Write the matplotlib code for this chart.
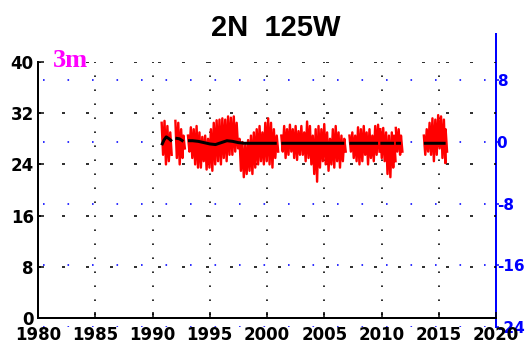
import matplotlib
matplotlib.use('Agg')
import matplotlib.pyplot as plt
import numpy as np
from matplotlib import font_manager as fm

plt.rcParams['lines.scale_dashes'] = False

# ---------------- data ----------------
x_ticks = [1980, 1985, 1990, 1995, 2000, 2005, 2010, 2015, 2020]
x_labels = ['1980', '1985', '1990', '1995', '2000', '2005', '2010', '2015', '2020']
left_ticks = [0, 8, 16, 24, 32, 40]
left_labels = ['0', '8', '16', '24', '32', '40']
right_ticks = [-24, -16, -8, 0, 8]
right_labels = ['-24', '-16', '-8', '0', '8']

# red series: envelope (high / low) read every ~quarter year; None = gap
red_years = [1990.8, 1991.05, 1991.3, 1991.55, None,
             1992.0, 1992.25, 1992.5, 1992.7, None,
             1993.1, 1993.35, 1993.6, 1993.85, 1994.1, 1994.35, 1994.6, 1994.85,
             1995.1, 1995.35, 1995.6, 1995.85, 1996.1, 1996.35, 1996.6, 1996.85,
             1997.1, 1997.35, 1997.6, 1997.85, 1998.1, 1998.35, 1998.6, 1998.85,
             1999.1, 1999.35, 1999.6, 1999.85, 2000.1, 2000.35, 2000.6, 2000.85, None,
             2001.25, 2001.5, 2001.75, 2002.0, 2002.25, 2002.5, 2002.75, 2003.0,
             2003.25, 2003.5, 2003.75, 2004.0, 2004.25, 2004.5, 2004.75, 2005.0,
             2005.25, 2005.5, 2005.75, 2006.0, 2006.25, 2006.5, 2006.75, None,
             2007.2, 2007.45, 2007.7, 2007.95, 2008.2, 2008.45, 2008.7, 2008.95,
             2009.2, 2009.45, 2009.7, None,
             2009.9, 2010.15, 2010.4, 2010.65, 2010.9, 2011.1, None,
             2011.25, 2011.5, 2011.7, None,
             2013.7, 2013.95, 2014.2, 2014.45, 2014.7, 2014.95, 2015.2, 2015.45, 2015.6]
red_hi = [30.5, 30.8, 30.0, 29.0, None,
          30.8, 30.5, 29.5, 28.5, None,
          28.5, 29.8, 29.5, 30.0, 29.0, 28.3, 28.5, 28.0,
          29.5, 30.5, 30.9, 31.0, 31.2, 31.0, 31.5, 31.3,
          31.5, 30.5, 28.0, 27.5, 27.0, 27.8, 28.5, 29.0,
          29.5, 30.0, 29.0, 30.5, 31.2, 30.5, 29.5, 28.5, None,
          28.5, 30.0, 29.5, 30.2, 29.5, 30.0, 29.2, 30.0,
          29.0, 30.7, 30.0, 28.5, 29.5, 30.0, 29.5, 30.3,
          29.0, 28.0, 29.5, 30.0, 29.0, 28.5, 28.0, None,
          28.5, 29.0, 28.5, 29.8, 29.5, 30.0, 29.0, 29.5,
          28.5, 30.0, 30.2, None,
          29.5, 29.7, 29.0, 28.5, 29.0, 28.5, None,
          29.7, 29.5, 28.5, None,
          28.5, 29.5, 30.5, 31.2, 31.0, 31.7, 31.5, 31.0, 29.5]
red_lo = [25.5, 24.0, 24.5, 25.5, None,
          25.0, 24.0, 25.0, 26.5, None,
          26.0, 25.0, 24.0, 23.5, 23.5, 24.5, 23.2, 23.5,
          23.0, 24.0, 24.5, 24.0, 25.0, 24.5, 25.5, 25.5,
          26.0, 26.5, 23.0, 22.0, 22.5, 23.0, 22.5, 23.5,
          24.0, 24.5, 24.0, 24.5, 24.0, 23.5, 25.0, 26.0, None,
          26.0, 25.0, 25.5, 26.0, 25.0, 24.7, 25.5, 25.5,
          24.5, 25.0, 24.0, 22.5, 21.3, 23.5, 24.5, 24.0,
          23.0, 24.0, 23.5, 24.5, 23.5, 24.5, 26.0, None,
          26.0, 25.0, 24.5, 24.0, 24.5, 25.5, 24.0, 25.0,
          24.5, 25.5, 26.0, None,
          25.0, 24.5, 22.5, 22.0, 23.5, 24.5, None,
          26.0, 25.5, 26.0, None,
          25.5, 26.0, 25.5, 24.5, 25.5, 26.5, 25.0, 24.2, 26.0]

# black (mean) line
black_years = [1990.8, 1991.0, 1991.2, 1991.45, 1991.7, None,
               1992.0, 1992.35, 1992.7, None,
               1993.1, 1993.5, 1994.0, 1994.5, 1995.0, 1995.5, 1996.0, 1996.5,
               1997.0, 1997.5, 1998.0, 1999.0, 2000.0, 2000.85, None,
               2001.25, 2003.0, 2005.0, 2006.75, None,
               2007.2, 2009.0, 2009.7, None,
               2009.9, 2011.1, None,
               2011.25, 2011.7, None,
               2013.7, 2015.6]
black_vals = [27.0, 27.8, 28.3, 28.0, 27.6, None,
              28.1, 28.0, 27.6, None,
              27.7, 27.7, 27.6, 27.4, 27.2, 27.1, 27.4, 27.7,
              27.6, 27.4, 27.3, 27.3, 27.3, 27.3, None,
              27.3, 27.3, 27.3, 27.3, None,
              27.3, 27.3, 27.3, None,
              27.3, 27.3, None,
              27.3, 27.3, None,
              27.3, 27.3]

title_text = '2N  125W'
depth_text = '3m'

# ---------------- fonts ----------------
names = {f.name for f in fm.fontManager.ttflist}
if 'Liberation Sans Narrow' in names:
    tick_font = 'Liberation Sans Narrow'
    tick_size = 17
    right_size = 16
elif 'DejaVu Sans Condensed' in names:
    tick_font = 'DejaVu Sans Condensed'
    tick_size = 13
    right_size = 12
else:
    tick_font = 'DejaVu Sans'
    tick_size = 12
    right_size = 11

PX = 0.72  # points per pixel at dpi 100

# ---------------- figure ----------------
W, H = 526, 350
fig = plt.figure(figsize=(W / 100, H / 100), dpi=100)
fig.patch.set_facecolor('white')

# right (blue) axis
ax2 = fig.add_axes([38 / W, 23 / H, 458 / W, 293 / H])
ax2.set_xlim(1980, 2020)
ax2.set_ylim(-24, 14)
ax2.patch.set_visible(False)
for s in ['left', 'top', 'bottom']:
    ax2.spines[s].set_visible(False)
ax2.spines['right'].set_color('#0000FF')
ax2.spines['right'].set_linewidth(2 * PX)
ax2.set_xticks([])
ax2.yaxis.tick_right()
ax2.set_yticks(right_ticks)
ax2.set_yticklabels(right_labels, fontfamily=tick_font, fontsize=right_size,
                    fontweight='bold', color='#0000FF')
ax2.tick_params(axis='y', colors='#0000FF', length=2, width=1.5 * PX,
                direction='out', pad=-1.5, labelcolor='#0000FF')
for v in right_ticks:
    ax2.axhline(v, color='#0000FF', lw=1.6 * PX,
                ls=(19.5 * PX, (1.6 * PX, 22.9 * PX)), zorder=1)

# main axis
ax = fig.add_axes([38 / W, 32 / H, 458 / W, 256 / H])
ax.set_zorder(ax2.get_zorder() + 1)
ax.patch.set_visible(False)
ax.set_xlim(1980, 2020)
ax.set_ylim(0, 40)
ax.spines['top'].set_visible(False)
ax.spines['right'].set_visible(False)
for s in ['left', 'bottom']:
    ax.spines[s].set_linewidth(2 * PX)
    ax.spines[s].set_color('black')
ax.set_xticks(x_ticks)
ax.set_xticklabels(x_labels, fontfamily=tick_font, fontsize=tick_size,
                   fontweight='bold')
ax.set_yticks(left_ticks)
ax.set_yticklabels(left_labels, fontfamily=tick_font, fontsize=tick_size,
                   fontweight='bold')
ax.tick_params(axis='both', direction='in', length=4, width=1.5 * PX, colors='black')
ax.tick_params(axis='x', pad=6)
ax.tick_params(axis='y', pad=3)

# black dotted grid
for v in left_ticks[1:]:
    ax.axhline(v, color='black', lw=1.6 * PX,
               ls=(0, (3 * PX, 21 * PX)), zorder=1)
for v in x_ticks[1:-1]:
    ax.axvline(v, color='black', lw=1.6 * PX,
               ls=(11 * PX, (1.6 * PX, 12.4 * PX)), zorder=1)

# red series as high/low trace
rx, ry = [], []
for t, hi, lo in zip(red_years, red_hi, red_lo):
    if t is None:
        rx.append(np.nan); ry.append(np.nan)
    else:
        rx += [t, t + 0.125]
        ry += [hi, lo]
ax.plot(rx, ry, color='#FF0000', lw=2.4 * PX, zorder=3)

bx = [np.nan if t is None else t for t in black_years]
by = [np.nan if v is None else v for v in black_vals]
ax.plot(bx, by, color='black', lw=3 * PX, zorder=4, solid_capstyle='butt')

# texts
fig.text(275.5 / W, 1 - 36 / H, title_text, ha='center', va='baseline',
         fontfamily='Liberation Sans', fontweight='bold', fontsize=21,
         color='black')
fig.text(53 / W, 1 - 67 / H, depth_text, ha='left', va='baseline',
         fontfamily='Liberation Serif', fontweight='bold', fontsize=19,
         color='#FF00FF')

fig.savefig('out.png', dpi=100, facecolor='white')
